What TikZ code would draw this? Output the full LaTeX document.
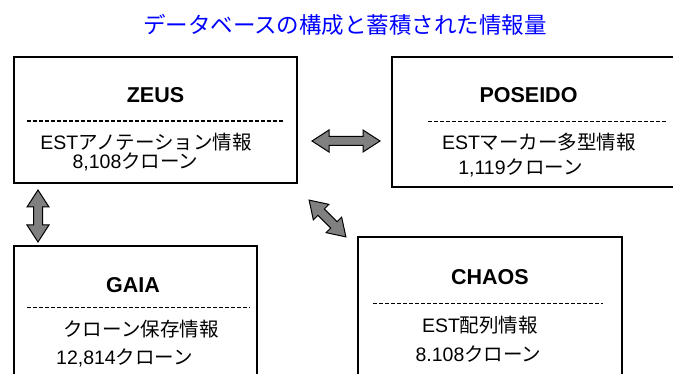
\documentclass[tikz,border=0pt]{standalone}
\usepackage{fontspec}
\setmainfont{Liberation Sans}
\newfontfamily\jp{Noto Sans CJK JP}
\usetikzlibrary{calc}
\definecolor{titleblue}{RGB}{0,0,255}
\definecolor{arrowgray}{RGB}{128,128,128}
\tikzset{
  dbbox/.style={draw=black, line width=2.8pt, fill=none, inner sep=0pt},
  dbtitle/.style={anchor=base, inner sep=0pt, font=\fontsize{21.5}{24}\selectfont\bfseries},
  dbtext/.style={anchor=base, inner sep=0pt, font=\fontsize{19.5}{22}\selectfont},
  sepline/.style={draw=black, line width=1.2pt, dash pattern=on 4pt off 2pt},
  arrowbody/.style={fill=arrowgray, draw=black, line width=1pt, line join=miter},
  pics/dblarrow/.style={code={
    \filldraw[arrowbody] (-#1/2,0) -- (-#1/2+17,11) -- (-#1/2+17,4.5) -- (#1/2-17,4.5)
      -- (#1/2-17,11) -- (#1/2,0) -- (#1/2-17,-11) -- (#1/2-17,-4.5)
      -- (-#1/2+17,-4.5) -- (-#1/2+17,-11) -- cycle;
  }}
}
\begin{document}
\begin{tikzpicture}[x=1pt, y=-1pt]
\useasboundingbox (0,0) rectangle (673,374);
\clip (0,0) rectangle (673,374);
\fill[white] (0,0) rectangle (673,374);

% title
\node[inner sep=0pt, text=titleblue, font=\fontsize{22.5}{26}\selectfont\jp] (title) at (345,25) {データベースの構成と蓄積された情報量};

% boxes
\node[dbbox, minimum width=283pt, minimum height=126pt] (zeus) at (155.5,120) {};
\node[dbbox, minimum width=308pt, minimum height=130pt] (poseido) at (546,122) {};
\node[dbbox, minimum width=243pt, minimum height=154pt] (gaia) at (135.5,323) {};
\node[dbbox, minimum width=264pt, minimum height=163pt] (chaos) at (490,318.5) {};

% ZEUS
\node[dbtitle] (zeust) at (155.5,103) {ZEUS};
\draw[sepline] (27,121) -- (283,121);
\node[dbtext] (zeus1) at (146,149.5) {EST{\jp アノテーション情報}};
\node[dbtext] (zeus2) at (135.5,169) {8,108{\jp クローン}};

% POSEIDO
\node[dbtitle] (poseidot) at (528.5,103) {POSEIDO};
\draw[sepline] (428,121.7) -- (667,121.7);
\node[dbtext] (poseido1) at (539,150) {EST{\jp マーカー多型情報}};
\node[dbtext] (poseido2) at (520.5,175) {1,119{\jp クローン}};

% GAIA
\node[dbtitle] (gaiat) at (133,293) {GAIA};
\draw[sepline] (27,307.7) -- (250,307.7);
\node[dbtext] (gaia1) at (141,337) {\jp クローン保存情報};
\node[dbtext] (gaia2) at (124.5,365) {12,814{\jp クローン}};

% CHAOS
\node[dbtitle] (chaost) at (490,284.5) {CHAOS};
\draw[sepline] (373,303.3) -- (603,303.3);
\node[dbtext] (chaos1) at (480,333) {EST{\jp 配列情報}};
\node[dbtext] (chaos2) at (478.5,362) {8.108{\jp クローン}};

% double arrows between boxes
\coordinate (hz1) at (312,141);
\coordinate (hz2) at (380,141);
\coordinate (vz1) at (38,190);
\coordinate (vz2) at (38,242);
\coordinate (dz1) at (309,200);
\coordinate (dz2) at (346,237);
\pic at ($(hz1)!0.5!(hz2)$) {dblarrow=68};
\pic[rotate=90] at ($(vz1)!0.5!(vz2)$) {dblarrow=52};
\pic[rotate=-45] at ($(dz1)!0.5!(dz2)$) {dblarrow=52};
\end{tikzpicture}
\end{document}
